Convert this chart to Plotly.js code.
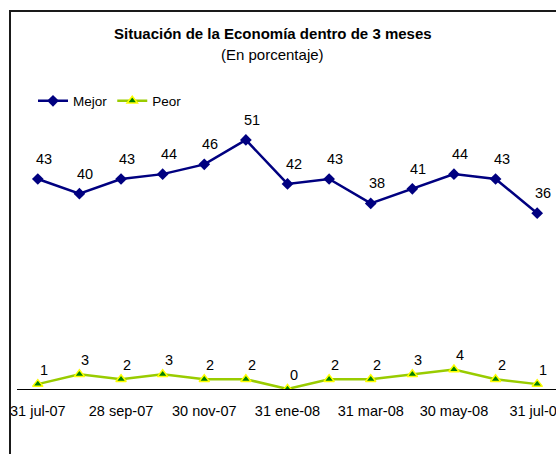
<!DOCTYPE html>
<html>
<head>
<meta charset="utf-8">
<script src="https://cdn.plot.ly/plotly-3.0.1.min.js"></script>
<style>
  html, body { margin: 0; padding: 0; width: 556px; height: 454px; overflow: hidden; background: #fff; }
  #frame { position: absolute; left: 9px; top: 10px; width: 700px; height: 600px; border-left: 2px solid #1a1a1a; border-top: 2px solid #1a1a1a; }
  #chart { position: absolute; left: 0; top: 0; width: 600px; height: 454px; }
</style>
</head>
<body>
<div id="chart"></div>
<div id="frame"></div>
<script>
const categories = ["31 jul-07", "31 ago-07", "28 sep-07", "31 oct-07", "30 nov-07", "31 dic-07",
                    "31 ene-08", "29 feb-08", "31 mar-08", "30 abr-08", "30 may-08", "30 jun-08", "31 jul-08"];
const mejor = [43, 40, 43, 44, 46, 51, 42, 43, 38, 41, 44, 43, 36];
const peor  = [1, 3, 2, 3, 2, 2, 0, 2, 2, 3, 4, 2, 1];
const titleText = "Situación de la Economía dentro de 3 meses";
const subtitleText = "(En porcentaje)";

const idx = categories.map((_, i) => i);
const labelIdx = idx.filter(i => i % 2 === 0);
const FONT = "Liberation Sans, Arial, sans-serif";

const traces = [
  {
    x: idx, y: mejor, name: "Mejor", type: "scatter", mode: "lines+markers",
    line: { color: "#000080", width: 2.5 },
    marker: { symbol: "diamond", size: 9, color: "#000080", line: { color: "#000080", width: 0 } },
    hoverinfo: "skip"
  },
  {
    x: idx, y: peor, name: "Peor", type: "scatter", mode: "lines+markers",
    line: { color: "#99CC00", width: 2.5 },
    marker: { symbol: "triangle-up", size: 9, color: "#008000", line: { color: "#FFFF00", width: 1.5 } },
    hoverinfo: "skip"
  }
];

const annotations = [];
mejor.forEach((v, i) => annotations.push({
  x: i, y: v, xref: "x", yref: "y", text: String(v), showarrow: false,
  xanchor: "center", yanchor: "middle", xshift: 6, yshift: 20,
  font: { family: FONT, size: 14.5, color: "#000" }
}));
peor.forEach((v, i) => annotations.push({
  x: i, y: v, xref: "x", yref: "y", text: String(v), showarrow: false,
  xanchor: "center", yanchor: "middle", xshift: 6, yshift: 14,
  font: { family: FONT, size: 14.5, color: "#000" }
}));
annotations.push({
  x: (272.5 - 17) / 541, y: (389 - 34) / 293, xref: "paper", yref: "paper",
  text: "<b>" + titleText + "</b>", showarrow: false, xanchor: "center", yanchor: "middle",
  font: { family: FONT, size: 15, color: "#000" }
});
annotations.push({
  x: (272.5 - 17) / 541, y: (389 - 55) / 293, xref: "paper", yref: "paper",
  text: subtitleText, showarrow: false, xanchor: "center", yanchor: "middle",
  font: { family: FONT, size: 15, color: "#000" }
});

const layout = {
  width: 600, height: 454,
  margin: { l: 17, r: 42, t: 96, b: 65, pad: 0 },
  paper_bgcolor: "#fff", plot_bgcolor: "#fff",
  showlegend: true,
  legend: {
    orientation: "h", x: (33 - 17) / 541, y: (389 - 101) / 293, xanchor: "left", yanchor: "middle",
    font: { family: FONT, size: 13.5, color: "#000" },
    bgcolor: "rgba(0,0,0,0)", itemwidth: 30, tracegroupgap: 0
  },
  xaxis: {
    range: [-0.5, 12.5], showgrid: false, zeroline: false,
    showline: true, linecolor: "#000", linewidth: 1,
    tickmode: "array", tickvals: labelIdx, ticktext: labelIdx.map(i => categories[i]),
    ticks: "", tickfont: { family: FONT, size: 14.5, color: "#000" }, ticklabelstandoff: 9
  },
  xaxis2: {
    overlaying: "x", anchor: "y", side: "bottom",
    range: [-0.5, 12.5], showgrid: false, zeroline: false, showline: false,
    tickmode: "array", tickvals: idx.map(i => i - 0.5).concat([12.5]),
    ticks: "outside", ticklen: 5, tickcolor: "#000", tickwidth: 1, showticklabels: false
  },
  yaxis: { range: [0, 60], visible: false, fixedrange: true },
  annotations: annotations
};

Plotly.newPlot("chart", traces, layout, { staticPlot: true, displayModeBar: false });
</script>
</body>
</html>
